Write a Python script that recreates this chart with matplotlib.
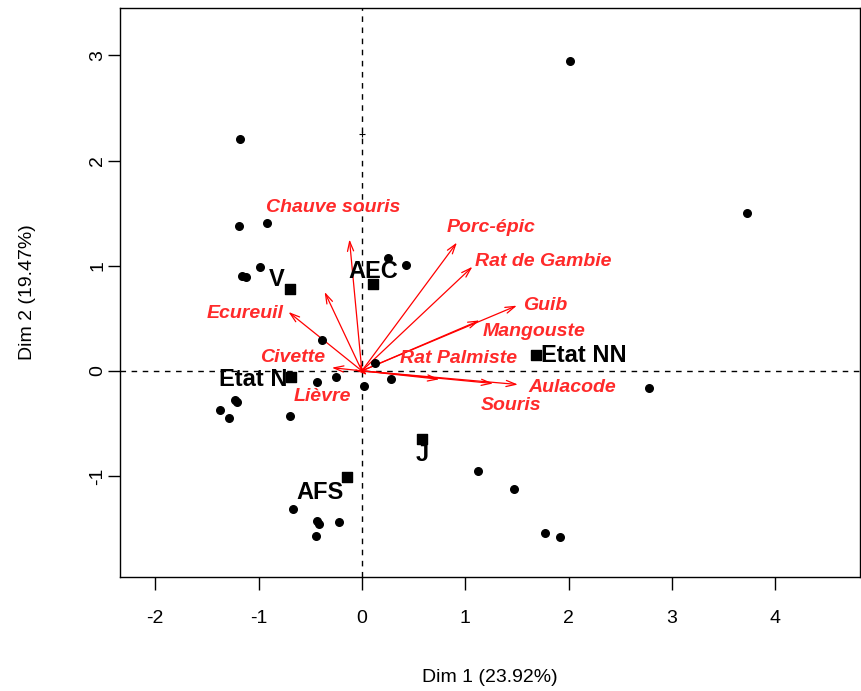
import matplotlib
matplotlib.use("Agg")
import matplotlib.pyplot as plt

plt.rcParams['font.family'] = ['Liberation Sans', 'DejaVu Sans']
plt.rcParams['axes.unicode_minus'] = False

# individuals (black dots)
ind_x = [-1.18, 2.01, -1.19, -0.92, -1.16, -1.12, -0.99, 0.25, 0.43, 3.73,
         -0.39, 0.13, -0.25, -0.43, 0.02, 0.28, 2.78, -1.23, -1.21, -1.37,
         -1.29, -0.70, 1.12, 1.47, 1.77, 1.92, -0.67, -0.43, -0.41, -0.22, -0.44]
ind_y = [2.20, 2.95, 1.38, 1.41, 0.90, 0.89, 0.99, 1.07, 1.01, 1.50,
         0.29, 0.07, -0.06, -0.11, -0.14, -0.08, -0.16, -0.28, -0.30, -0.37,
         -0.45, -0.43, -0.95, -1.12, -1.54, -1.58, -1.31, -1.43, -1.46, -1.44, -1.57]

# small cross on the vertical axis
cross_x = [0.0]
cross_y = [2.25]

# category means (black squares)
cat_names = ['V', 'AEC', 'Etat N', 'Etat NN', 'J', 'AFS']
cat_x = [-0.70, 0.11, -0.69, 1.69, 0.58, -0.14]
cat_y = [0.78, 0.83, -0.06, 0.15, -0.65, -1.01]

# variables (red arrows from origin)
var_names = ['Chauve souris', '', 'Ecureuil', 'Civette', 'Lièvre', 'Porc-épic',
             'Rat de Gambie', 'Guib', 'Mangouste', 'Rat Palmiste', 'Souris', 'Aulacode']
var_x = [-0.12, -0.36, -0.71, -0.29, 0.05, 0.92, 1.07, 1.50, 1.14, 0.75, 1.27, 1.51]
var_y = [1.25, 0.75, 0.56, 0.03, -0.04, 1.22, 0.99, 0.62, 0.48, -0.08, -0.12, -0.13]

# where the variable names sit (layout)
var_lab_x = [-0.28, 0, -1.13, -0.67, -0.38, 1.25, 1.76, 1.77, 1.67, 0.94, 1.44, 2.04]
var_lab_y = [1.55, 0, 0.55, 0.13, -0.24, 1.36, 1.04, 0.62, 0.37, 0.12, -0.33, -0.16]
# offsets of category names from their squares, in points
cat_off = [(-9, 7), (0, 9), (-27, -2), (34, 0), (0, -11), (-20, -11)]

fig = plt.figure(figsize=(8.61, 6.91), dpi=100)
ax = fig.add_axes([0.1394, 0.165, 0.8594, 0.8234])

ax.axhline(0, color='black', ls=(0, (4, 4)), lw=1, zorder=1)
ax.axvline(0, color='black', ls=(0, (4, 4)), lw=1, zorder=1)

ax.scatter(ind_x, ind_y, s=30, c='black', zorder=3)
ax.scatter(cross_x, cross_y, marker='+', s=25, c='black', lw=0.8, zorder=3)
ax.scatter(cat_x, cat_y, marker='s', s=55, c='black', zorder=3)

for name, x, y, off in zip(cat_names, cat_x, cat_y, cat_off):
    ax.annotate(name, (x, y), xytext=off, textcoords='offset points',
                ha='center', va='center', fontsize=17, fontweight='bold', zorder=4)

for x, y in zip(var_x, var_y):
    ax.annotate('', xy=(x, y), xytext=(0, 0),
                arrowprops=dict(arrowstyle='->,head_length=0.7,head_width=0.22',
                                color='red', lw=0.9, shrinkA=0, shrinkB=0), zorder=2)

for name, x, y in zip(var_names, var_lab_x, var_lab_y):
    if name:
        ax.text(x, y, name, color='#ff2a2a', fontsize=14, fontweight='bold',
                style='italic', ha='center', va='center', zorder=4)

ax.set_xlim(-2.34, 4.82)
ax.set_ylim(-1.96, 3.45)
ax.set_xticks([-2, -1, 0, 1, 2, 3, 4])
ax.set_yticks([-1, 0, 1, 2, 3])
ax.tick_params(length=9, width=1, labelsize=14)
ax.tick_params(axis='x', pad=15)
ax.tick_params(axis='y', pad=1)
for lab in ax.get_yticklabels():
    lab.set_rotation(90)
    lab.set_va('center')
ax.set_xlabel('Dim 1 (23.92%)', fontsize=14, labelpad=30)
ax.set_ylabel('Dim 2 (19.47%)', fontsize=14, labelpad=38)
for s in ax.spines.values():
    s.set_linewidth(1)

fig.savefig('out.png', dpi=100)
